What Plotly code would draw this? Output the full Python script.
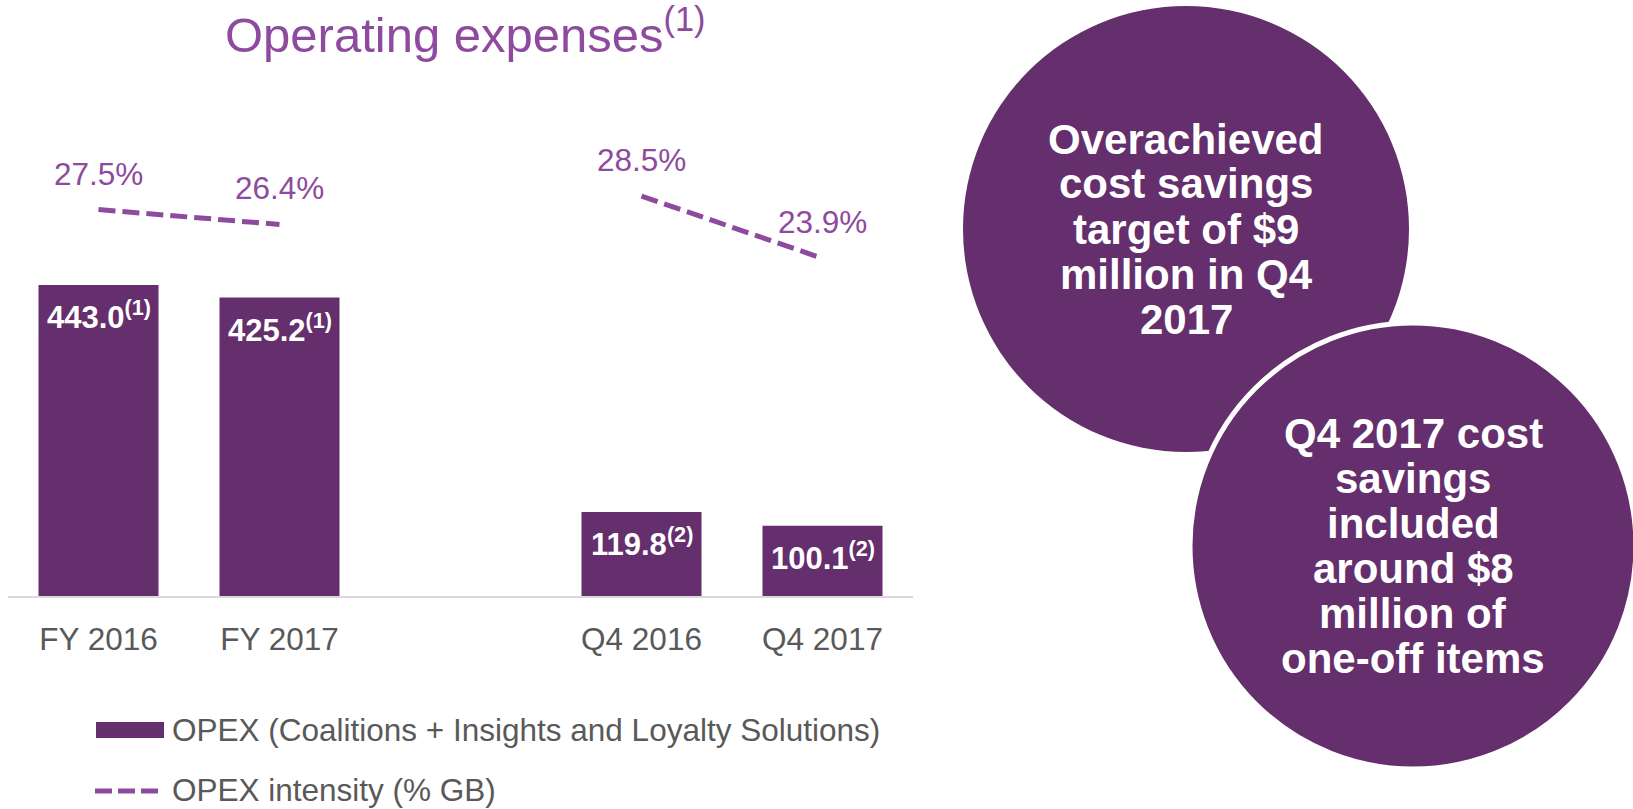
import plotly.graph_objects as go

# ---------------- data ----------------
categories = ["FY 2016", "FY 2017", "Q4 2016", "Q4 2017"]
opex = [443.0, 425.2, 119.8, 100.1]
opex_notes = ["(1)", "(1)", "(2)", "(2)"]
intensity = [27.5, 26.4, 28.5, 23.9]
axis_order = ["FY 2016", "FY 2017", " ", "Q4 2016", "Q4 2017"]   # " " = visual gap slot
title_text = "Operating expenses"
title_note = "(1)"
legend_labels = ["OPEX (Coalitions + Insights and Loyalty Solutions)", "OPEX intensity (% GB)"]
bubble1_lines = ["Overachieved", "cost savings", "target of $9", "million in Q4", "2017"]
bubble2_lines = ["Q4 2017 cost", "savings", "included", "around $8", "million of", "one-off items"]

# ---------------- style ----------------
W, H = 1633, 809
BAR = "#652E6C"
LINE = "#8E4A9E"
GRAY = "#595959"
FONT = "Liberation Sans, Arial, sans-serif"


def px(x):
    return x / W


def py(y):
    return 1 - y / H


pct_map = dict(zip(categories, intensity))
line_y = [pct_map.get(c) for c in axis_order]

fig = go.Figure()
fig.add_trace(go.Bar(
    x=categories, y=opex, name=legend_labels[0],
    marker=dict(color=BAR, line=dict(width=0)),
    showlegend=False, hoverinfo="skip",
))
fig.add_trace(go.Scatter(
    x=axis_order, y=line_y, yaxis="y2", mode="lines", name=legend_labels[1],
    line=dict(color=LINE, width=5, dash="17px,7px"), connectgaps=False,
    showlegend=False, hoverinfo="skip",
))

annotations = []
# bar value labels
for c, v, n in zip(categories, opex, opex_notes):
    annotations.append(dict(
        x=c, y=v, xref="x", yref="y", yshift=-30, showarrow=False,
        xanchor="center", yanchor="middle",
        text=f"<b>{v:.1f}<sup>{n}</sup></b>",
        font=dict(family=FONT, size=31, color="white"),
    ))
# intensity labels
for c, p in zip(categories, intensity):
    annotations.append(dict(
        x=c, y=p, xref="x", yref="y2", yshift=36, showarrow=False,
        xanchor="center", yanchor="middle",
        text=f"{p:.1f}%",
        font=dict(family=FONT, size=31.5, color=LINE),
    ))
# title
annotations.append(dict(
    x=px(465), y=py(31), xref="paper", yref="paper", showarrow=False,
    xanchor="center", yanchor="middle",
    text=f"{title_text}<sup>{title_note}</sup>",
    font=dict(family=FONT, size=49, color=LINE),
))
# legend texts
for txt, yy in zip(legend_labels, [730, 790]):
    annotations.append(dict(
        x=px(170), y=py(yy), xref="paper", yref="paper", showarrow=False,
        xanchor="left", yanchor="middle", text=txt,
        font=dict(family=FONT, size=31.5, color=GRAY),
    ))

# bubbles
c1 = (1186, 229, 223)
c2 = (1413, 546, 223)
shapes = [
    dict(type="circle", xref="paper", yref="paper",
         x0=px(c1[0] - c1[2]), x1=px(c1[0] + c1[2]),
         y0=py(c1[1] + c1[2]), y1=py(c1[1] - c1[2]),
         fillcolor=BAR, line=dict(width=0)),
    dict(type="circle", xref="paper", yref="paper",
         x0=px(c2[0] - c2[2]), x1=px(c2[0] + c2[2]),
         y0=py(c2[1] + c2[2]), y1=py(c2[1] - c2[2]),
         fillcolor=BAR, line=dict(width=5, color="white")),
    # legend swatches
    dict(type="rect", xref="paper", yref="paper",
         x0=px(96), x1=px(164), y0=py(738), y1=py(722),
         fillcolor=BAR, line=dict(width=0)),
    dict(type="line", xref="paper", yref="paper",
         x0=px(95), x1=px(159), y0=py(791), y1=py(791),
         line=dict(color=LINE, width=5, dash="17px,6px")),
]

for lines, (cx, cy, _r) in [(bubble1_lines, c1), (bubble2_lines, c2)]:
    n = len(lines)
    for i, t in enumerate(lines):
        yy = cy + (i - (n - 1) / 2) * 45
        annotations.append(dict(
            x=px(cx), y=py(yy), xref="paper", yref="paper", showarrow=False,
            xanchor="center", yanchor="middle",
            text=f"<b>{t}</b>",
            font=dict(family=FONT, size=42, color="white"),
        ))

base_px, top_px = 596, 100
bar_scale = 0.702      # px per unit
pct_scale = 13.55      # px per percentage point
pct_zero_px = 582.2
y_range = [0, (base_px - top_px) / bar_scale]
y2_range = [(pct_zero_px - base_px) / pct_scale, (pct_zero_px - top_px) / pct_scale]

fig.update_layout(
    width=W, height=H,
    margin=dict(l=0, r=0, t=0, b=0),
    paper_bgcolor="white", plot_bgcolor="white",
    bargap=0.337,
    font=dict(family=FONT),
    xaxis=dict(
        type="category", categoryorder="array", categoryarray=axis_order,
        range=[-0.5, 4.5], domain=[px(8), px(913)],
        showline=True, linecolor="#D9D9D9", linewidth=2,
        showgrid=False, zeroline=False, ticks="",
        tickfont=dict(family=FONT, size=31.5, color=GRAY),
        ticklabelstandoff=14,
    ),
    yaxis=dict(domain=[py(base_px), py(top_px)], range=y_range,
               visible=False, showgrid=False, zeroline=False),
    yaxis2=dict(overlaying="y", range=y2_range, visible=False,
                showgrid=False, zeroline=False),
    shapes=shapes,
    annotations=annotations,
    showlegend=False,
)

fig.write_html("out.html", config={"displayModeBar": False},
               post_script="document.body.style.margin='0';document.body.style.overflow='hidden';")
